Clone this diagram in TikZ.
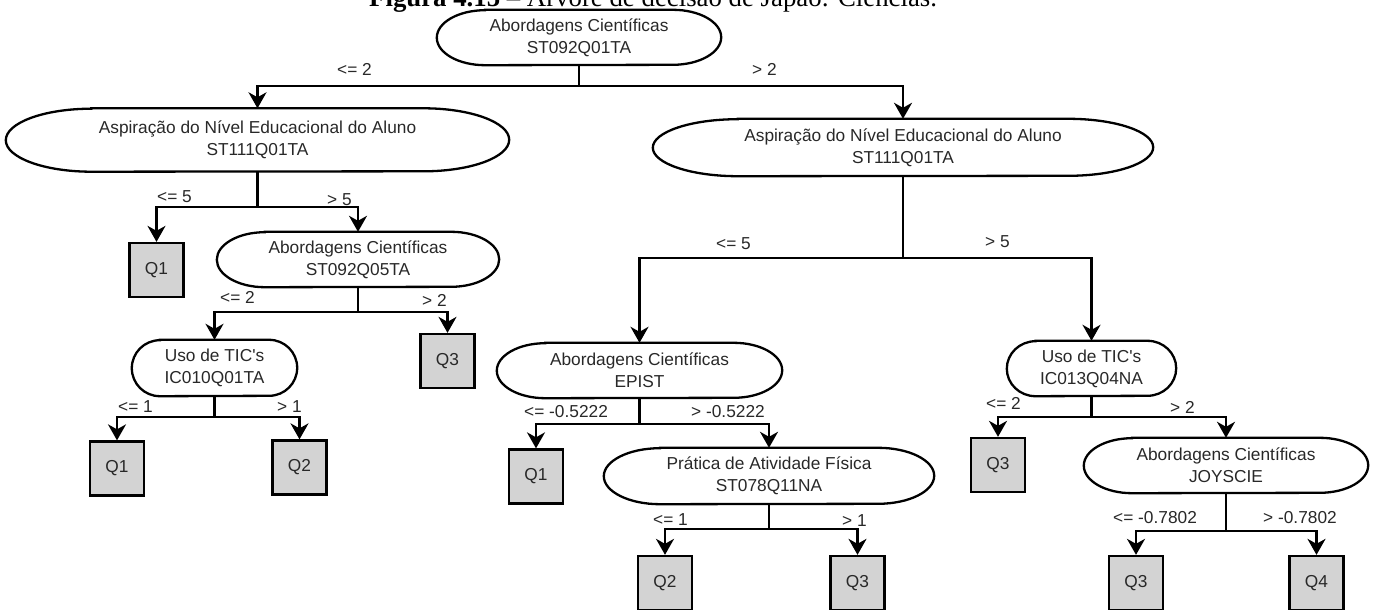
\documentclass[tikz,border=0pt]{standalone}
\usepackage{fontspec}
\setmainfont{Liberation Sans}
\newfontfamily\capfont{Liberation Serif}
\usetikzlibrary{arrows.meta,calc}
\definecolor{leafgray}{RGB}{211,211,211}
\definecolor{txt}{RGB}{40,40,40}

% Decision node: a box whose two ends are half ellipses.
% #1 name, #2 x, #3 y (downwards), #4 width, #5 height, #6 text
\newcommand\ovalnode[6]{%
  \node[ovaltext, minimum width=#4pt, minimum height=#5pt] (#1) at (#2,-#3) {#6};
  \pgfmathsetmacro\orx{0.17*#4}%
  \pgfmathsetmacro\ory{#5/2}%
  \draw[ovalline] ($(#1.north west)+(\orx,0)$) -- ($(#1.north east)+(-\orx,0)$)
    arc[start angle=90, end angle=-90, x radius=\orx pt, y radius=\ory pt]
    -- ($(#1.south west)+(\orx,0)$)
    arc[start angle=270, end angle=90, x radius=\orx pt, y radius=\ory pt] -- cycle;
}

\begin{document}
\begin{tikzpicture}[x=1pt,y=1pt,
  every node/.style={font=\fontsize{17.3}{22}\selectfont, text=txt},
  ovaltext/.style={inner sep=0pt, align=center},
  ovalline/.style={line width=2.3pt, draw=black},
  leaf/.style={draw=black, line width=2.3pt, fill=leafgray,
    minimum width=54pt, minimum height=54pt, inner sep=0pt},
  conn/.style={line width=2.3pt, -{Stealth[length=16pt,width=18pt,inset=5pt]}},
  lbl/.style={anchor=base west, inner sep=0pt},
]
\useasboundingbox (0,0) rectangle (1381,-610);
\clip (0,0) rectangle (1381,-610);

% caption (top part cut by the page edge)
\node[anchor=base west, inner sep=0pt, text=black,
  font=\capfont\fontsize{26.8}{30}\selectfont] (caption) at (369,-7)
  {\textbf{Figura 4.15} – Árvore de decisão de Japão: Ciências.};

% decision nodes
\ovalnode{root}{579}{37.5}{284}{55}{Abordagens Científicas\\ST092Q01TA}
\ovalnode{aspL}{257.5}{140}{503}{63}{Aspiração do Nível Educacional do Aluno\\ST111Q01TA}
\ovalnode{aspR}{903}{147.5}{500}{57}{Aspiração do Nível Educacional do Aluno\\ST111Q01TA}
\ovalnode{abL}{358}{259.5}{282}{55}{Abordagens Científicas\\ST092Q05TA}
\ovalnode{ticL}{214.5}{368}{165}{56}{Uso de TIC\textquotesingle s\\IC010Q01TA}
\ovalnode{epist}{639.5}{370.5}{285}{55}{Abordagens Científicas\\EPIST}
\ovalnode{ticR}{1091.5}{368.5}{169}{55}{Uso de TIC\textquotesingle s\\IC013Q04NA}
\ovalnode{prat}{769}{476}{330}{56}{Prática de Atividade Física\\ST078Q11NA}
\ovalnode{joy}{1226}{465.5}{284}{55}{Abordagens Científicas\\JOYSCIE}

% leaves
\node[leaf] (q1a) at (156.5,-270) {Q1};
\node[leaf] (q3a) at (447.5,-361) {Q3};
\node[leaf] (q1b) at (117,-468.5) {Q1};
\node[leaf] (q2a) at (299.5,-467.5) {Q2};
\node[leaf] (q1c) at (536,-476.5) {Q1};
\node[leaf] (q2b) at (665,-583) {Q2};
\node[leaf] (q3b) at (857.5,-583) {Q3};
\node[leaf] (q3c) at (998,-465) {Q3};
\node[leaf] (q3d) at (1136,-583) {Q3};
\node[leaf] (q4) at (1316.5,-583) {Q4};

% split levels
\coordinate (jroot) at (579,-86);
\coordinate (jaspL) at (257.5,-207);
\coordinate (jabL) at (358,-312);
\coordinate (jticL) at (214.5,-417);
\coordinate (jaspR) at (903,-258);
\coordinate (jepist) at (639.5,-424);
\coordinate (jprat) at (769,-529);
\coordinate (jticR) at (1091.5,-417);
\coordinate (jjoy) at (1226,-531);

% connectors
\draw[conn] (root.south) -- (jroot) -| (aspL.north);
\draw[conn] (root.south) -- (jroot) -| (aspR.north);
\draw[conn] (aspL.south) -- (jaspL) -| (q1a.north);
\draw[conn] (aspL.south) -- (jaspL) -| (abL.north);
\draw[conn] (abL.south) -- (jabL) -| (ticL.north);
\draw[conn] (abL.south) -- (jabL) -| (q3a.north);
\draw[conn] (ticL.south) -- (jticL) -| (q1b.north);
\draw[conn] (ticL.south) -- (jticL) -| (q2a.north);
\draw[conn] (aspR.south) -- (jaspR) -| (epist.north);
\draw[conn] (aspR.south) -- (jaspR) -| (ticR.north);
\draw[conn] (epist.south) -- (jepist) -| (q1c.north);
\draw[conn] (epist.south) -- (jepist) -| (prat.north);
\draw[conn] (prat.south) -- (jprat) -| (q2b.north);
\draw[conn] (prat.south) -- (jprat) -| (q3b.north);
\draw[conn] (ticR.south) -- (jticR) -| (q3c.north);
\draw[conn] (ticR.south) -- (jticR) -| (joy.north);
\draw[conn] (joy.south) -- (jjoy) -| (q3d.north);
\draw[conn] (joy.south) -- (jjoy) -| (q4.north);

% split conditions
\node[lbl] (lrootL) at (337,-76) {<= 2};
\node[lbl] (lrootR) at (752,-76) {> 2};
\node[lbl] (laspLL) at (157,-202) {<= 5};
\node[lbl] (laspLR) at (327,-205) {> 5};
\node[lbl] (labLL) at (220,-303) {<= 2};
\node[lbl] (labLR) at (422,-306) {> 2};
\node[lbl] (lticLL) at (118,-412) {<= 1};
\node[lbl] (lticLR) at (277,-412) {> 1};
\node[lbl] (laspRL) at (716,-249) {<= 5};
\node[lbl] (laspRR) at (985,-247) {> 5};
\node[lbl] (lepL) at (524,-417) {<= -0.5222};
\node[lbl] (lepR) at (691,-417) {> -0.5222};
\node[lbl] (lprL) at (653,-525) {<= 1};
\node[lbl] (lprR) at (842,-526) {> 1};
\node[lbl] (lticRL) at (986,-409) {<= 2};
\node[lbl] (lticRR) at (1170,-413) {> 2};
\node[lbl] (ljoyL) at (1113,-523) {<= -0.7802};
\node[lbl] (ljoyR) at (1263,-523) {> -0.7802};
\end{tikzpicture}
\end{document}
